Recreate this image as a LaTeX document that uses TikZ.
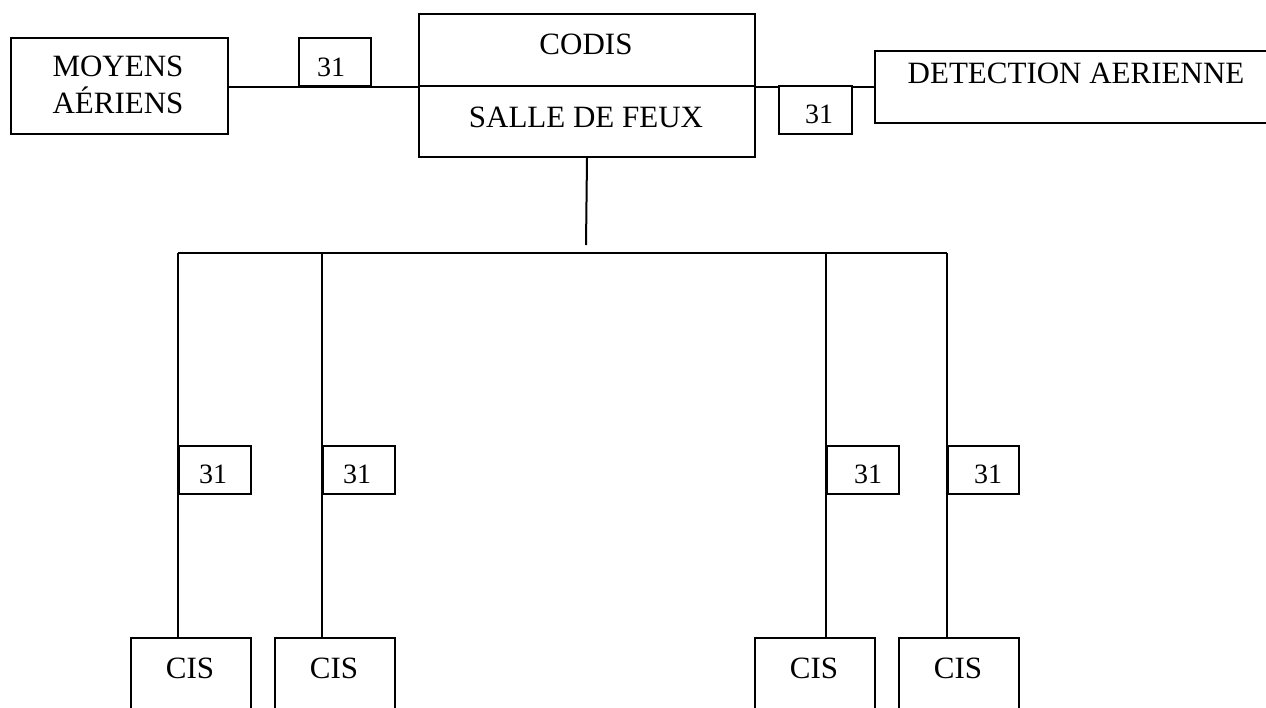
\documentclass[tikz,border=0pt]{standalone}
\usepackage{fontspec}
\setmainfont{Liberation Serif}
\begin{document}
\begin{tikzpicture}[x=1pt,y=-1pt,line width=2pt,
  boxstyle/.style={draw,rectangle,inner sep=0pt,anchor=north west},
  lbl/.style={inner sep=0pt,anchor=base,font=\fontsize{31}{37}\selectfont},
  numlbl/.style={inner sep=0pt,anchor=base,font=\fontsize{28}{34}\selectfont},
  wire/.style={draw,line width=2pt}]
\useasboundingbox (0,0) rectangle (1266,707);
\clip (0,0) rectangle (1266,707);
% main boxes
\node[boxstyle,minimum width=217pt,minimum height=96pt] (moyens) at (10,37) {};
\node[boxstyle,minimum width=336pt,minimum height=72pt] (codis) at (418,13) {};
\node[boxstyle,minimum width=336pt,minimum height=71pt] (salle) at (418,85) {};
\node[boxstyle,minimum width=406pt,minimum height=72pt] (detect) at (874,50) {};
% CIS boxes
\node[boxstyle,minimum width=120pt,minimum height=100pt] (cis1) at (130,637) {};
\node[boxstyle,minimum width=120pt,minimum height=100pt] (cis2) at (274,637) {};
\node[boxstyle,minimum width=120pt,minimum height=100pt] (cis3) at (754,637) {};
\node[boxstyle,minimum width=120pt,minimum height=100pt] (cis4) at (898,637) {};
% texts
\node[lbl] (tmoy1) at (118,76) {MOYENS};
\node[lbl] (tmoy2) at (118,113) {AÉRIENS};
\node[lbl] (tcodis) at (586,54) {CODIS};
\node[lbl] (tsalle) at (586,127) {SALLE DE FEUX};
\node[lbl] (tdet) at (1076,83) {DETECTION AERIENNE};
\node[lbl] (tcis1) at (190,678) {CIS};
\node[lbl] (tcis2) at (334,678) {CIS};
\node[lbl] (tcis3) at (814,678) {CIS};
\node[lbl] (tcis4) at (958,678) {CIS};
% connectors
\draw[wire] (moyens.east |- codis.south west) -- (codis.south west);
\draw[wire] (codis.south east) -- (codis.south east -| detect.west);
\coordinate (drop) at (586,245);
\draw[wire] (salle.south) -- (drop);
\coordinate (b1) at (178,253);
\coordinate (b2) at (322,253);
\coordinate (b3) at (826,253);
\coordinate (b4) at (947,253);
\draw[wire] (b1) -- (b4);
\draw[wire] (b1) -- (b1 |- cis1.north);
\draw[wire] (b2) -- (b2 |- cis2.north);
\draw[wire] (b3) -- (b3 |- cis3.north);
\draw[wire] (b4) -- (b4 |- cis4.north);
% 31 boxes
\node[boxstyle,fill=white,minimum width=72pt,minimum height=48pt] (n1) at (298,37) {};
\node[boxstyle,fill=white,minimum width=73pt,minimum height=48pt] (n2) at (778,85) {};
\node[boxstyle,fill=white,minimum width=72pt,minimum height=48pt] (n3) at (178,445) {};
\node[boxstyle,fill=white,minimum width=72pt,minimum height=48pt] (n4) at (322,445) {};
\node[boxstyle,fill=white,minimum width=72pt,minimum height=48pt] (n5) at (826,445) {};
\node[boxstyle,fill=white,minimum width=71pt,minimum height=48pt] (n6) at (947,445) {};
\node[numlbl] (t1) at (331,76) {31};
\node[numlbl] (t2) at (819,123) {31};
\node[numlbl] (t3) at (213,483) {31};
\node[numlbl] (t4) at (357,483) {31};
\node[numlbl] (t5) at (868,483) {31};
\node[numlbl] (t6) at (988,483) {31};
\end{tikzpicture}
\end{document}
